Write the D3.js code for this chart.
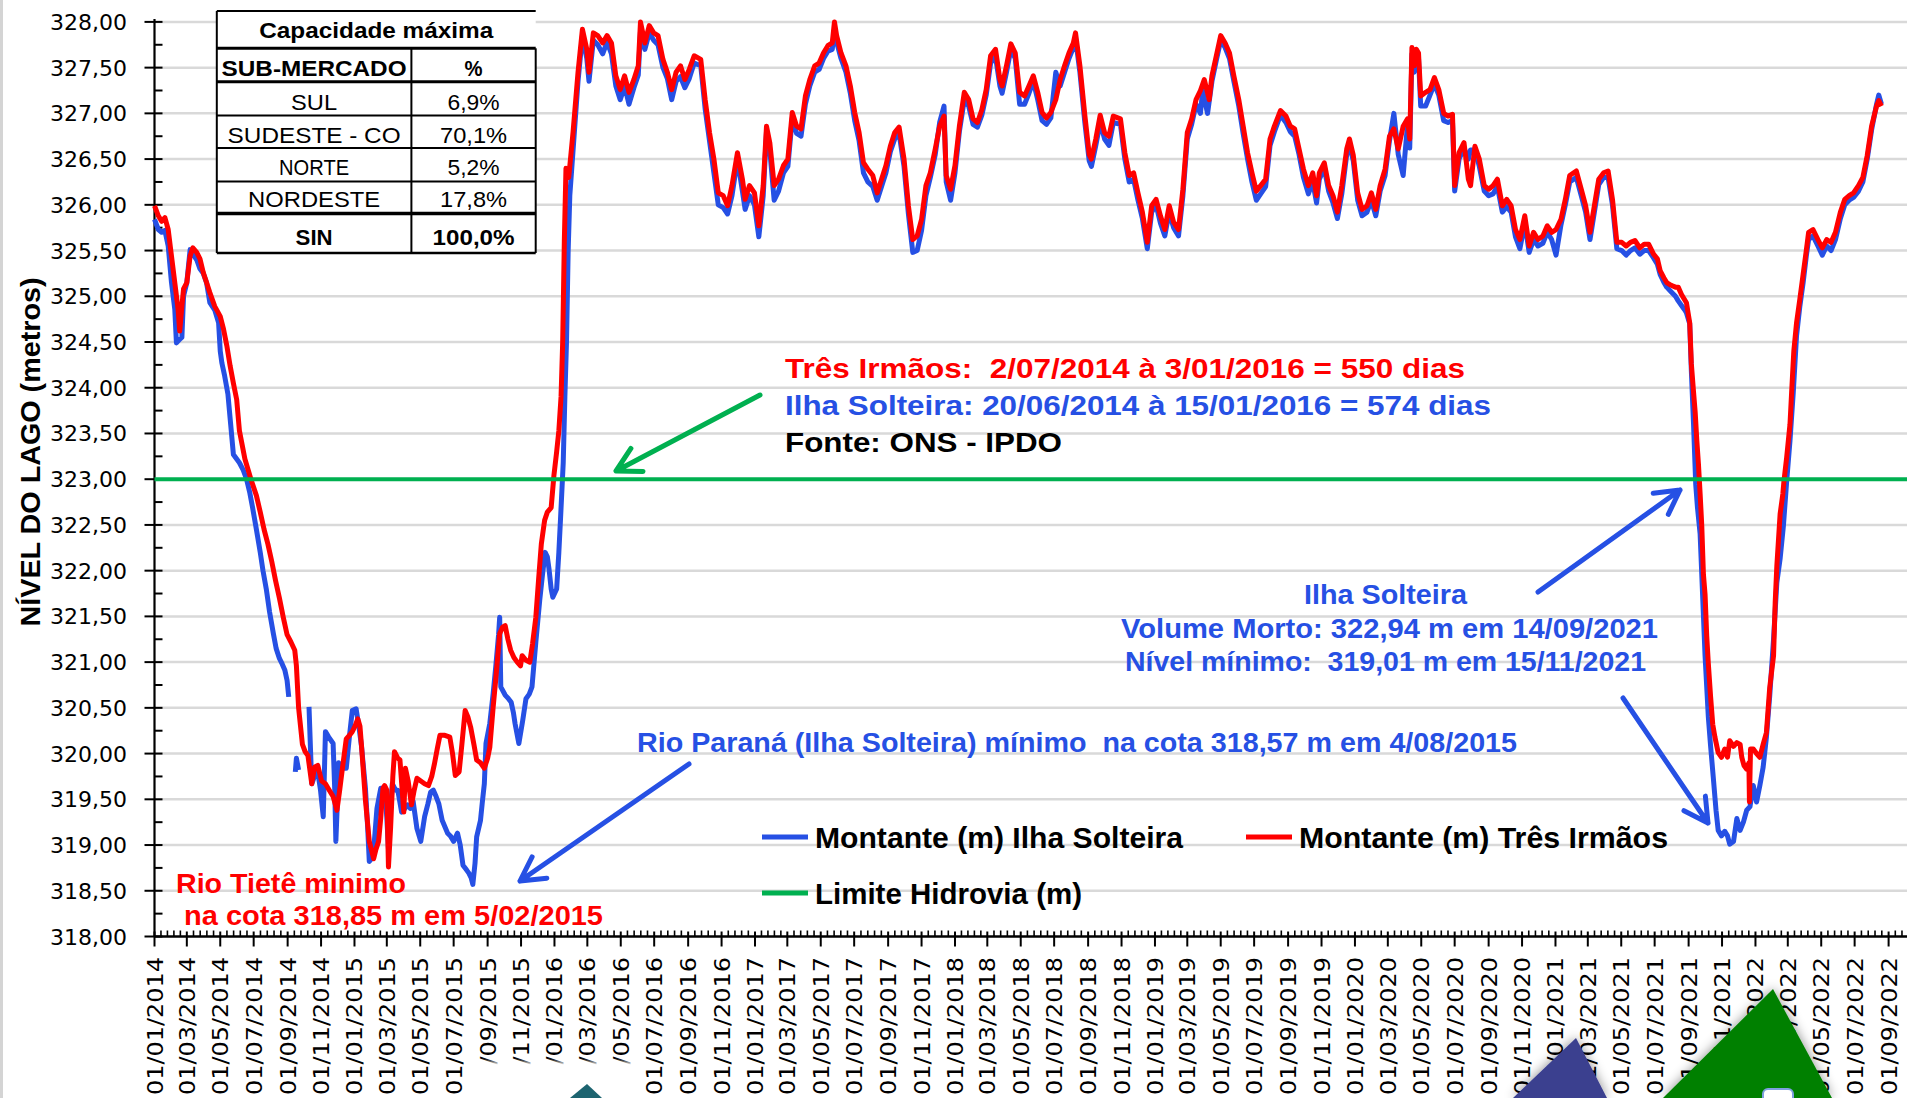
<!DOCTYPE html>
<html>
<head>
<meta charset="utf-8">
<script src="https://cdn.jsdelivr.net/npm/d3@7"></script>
<style>
  body { margin: 0; background: #fff; }
  text { white-space: pre; }
</style>
</head>
<body>
<svg id="grafico"></svg>
<script>
// nivel montante (m), pares [dias desde 01/01/2014, nivel]; null = sem dado
var ilhaSolteira = [
  [0,325.84],[7,325.73],[13,325.7],[19,325.72],[25,325.55],[31,325.15],[37,324.86],[40,324.49],[46,324.53],[50,324.55],
  [53,325.0],[59,325.15],[65,325.51],[71,325.45],[77,325.4],[83,325.3],[89,325.25],[95,325.15],[101,324.93],[110,324.85],
  [117,324.71],[120,324.4],[123,324.27],[128,324.13],[134,323.93],[139,323.6],[144,323.27],[150,323.22],[155,323.18],[162,323.1],
  [168,323.0],[174,322.85],[179,322.69],[186,322.45],[193,322.2],[198,322.0],[204,321.8],[210,321.55],[217,321.31],[222,321.15],
  [228,321.04],[233,320.98],[238,320.91],[242,320.8],[245,320.62],[250,null],[257,319.8],[259,319.95],[263,319.82],[265,null],
  [282,320.51],[285,320.0],[287,319.67],[292,319.75],[298,319.8],[303,319.6],[308,319.31],[312,320.24],[318,320.18],[326,320.11],
  [329,319.6],[331,319.04],[334,319.5],[336,319.9],[343,319.84],[350,319.84],[356,320.2],[361,320.47],[368,320.49],[373,320.3],
  [378,320.07],[385,319.62],[389,319.2],[392,318.82],[399,318.87],[406,319.4],[413,319.62],[420,319.62],[424,319.3],[427,318.96],
  [431,319.4],[434,319.67],[440,319.6],[444,319.6],[451,319.36],[457,319.4],[462,319.44],[467,319.4],[472,319.48],[479,319.18],
  [486,319.04],[493,319.31],[499,319.45],[504,319.58],[509,319.6],[514,319.53],[519,319.45],[525,319.27],[530,319.2],[535,319.13],
  [540,319.1],[546,319.04],[553,319.13],[558,319.0],[563,318.78],[568,318.74],[574,318.69],[578,318.64],[581,318.57],[585,318.8],
  [588,319.09],[595,319.27],[598,319.45],[602,319.67],[605,320.11],[612,320.33],[618,320.65],[623,320.96],[628,321.3],[630,321.49],
  [632,320.73],[640,320.64],[646,320.6],[651,320.56],[655,320.45],[658,320.33],[665,320.11],[672,320.36],[678,320.6],[684,320.65],
  [689,320.73],[696,321.22],[703,321.67],[708,321.95],[713,322.2],[717,322.15],[720,322.02],[724,321.8],[727,321.71],[734,321.8],
  [738,322.2],[741,322.56],[746,323.18],[749,323.9],[752,324.51],[755,325.5],[758,326.1],[764,326.6],[773,327.35],[781,327.85],
  [789,327.6],[793,327.35],[801,327.8],[809,327.75],[818,327.65],[826,327.78],[834,327.65],[842,327.3],[850,327.15],[858,327.3],
  [866,327.1],[875,327.28],[883,327.42],[887,327.9],[895,327.7],[903,327.88],[911,327.8],[919,327.75],[928,327.5],[936,327.38],
  [944,327.15],[952,327.35],[960,327.4],[968,327.28],[976,327.38],[985,327.55],[997,327.52],[1005,327.05],[1013,326.7],[1021,326.35],
  [1029,326.0],[1038,325.97],[1046,325.9],[1054,326.1],[1064,326.5],[1073,326.15],[1078,325.95],[1086,326.1],[1095,326.0],[1103,325.65],
  [1111,326.1],[1117,326.8],[1123,326.6],[1131,326.05],[1139,326.15],[1148,326.35],[1156,326.42],[1164,326.95],[1172,326.78],[1180,326.75],
  [1188,327.1],[1196,327.3],[1205,327.45],[1213,327.48],[1221,327.6],[1229,327.68],[1237,327.7],[1241,327.92],[1245,327.78],[1253,327.6],
  [1262,327.45],[1270,327.22],[1278,326.92],[1286,326.7],[1294,326.35],[1302,326.25],[1311,326.2],[1319,326.05],[1327,326.2],[1335,326.35],
  [1343,326.58],[1351,326.72],[1359,326.78],[1368,326.42],[1376,325.9],[1384,325.48],[1392,325.5],[1400,325.72],[1408,326.1],[1416,326.3],
  [1425,326.55],[1433,326.9],[1441,327.08],[1445,326.25],[1453,326.05],[1461,326.35],[1469,326.8],[1478,327.15],[1486,327.08],[1494,326.88],
  [1502,326.85],[1510,326.98],[1518,327.2],[1526,327.55],[1535,327.62],[1543,327.3],[1547,327.22],[1555,327.45],[1563,327.7],[1571,327.6],
  [1579,327.1],[1588,327.1],[1596,327.22],[1604,327.35],[1612,327.15],[1620,326.92],[1628,326.88],[1636,326.95],[1645,327.45],[1653,327.3],
  [1661,327.45],[1669,327.6],[1677,327.72],[1681,327.82],[1689,327.45],[1698,326.9],[1706,326.48],[1710,326.42],[1718,326.65],[1726,326.9],
  [1734,326.72],[1742,326.65],[1750,326.9],[1763,326.88],[1771,326.5],[1779,326.25],[1787,326.28],[1795,326.05],[1803,325.85],[1812,325.52],
  [1820,325.92],[1828,326.0],[1836,325.8],[1844,325.66],[1852,325.92],[1860,325.75],[1869,325.66],[1877,326.1],[1885,326.72],[1893,326.88],
  [1901,327.1],[1909,327.0],[1913,327.25],[1922,327.0],[1930,327.35],[1938,327.58],[1946,327.8],[1954,327.72],[1962,327.6],[1970,327.35],
  [1979,327.08],[1987,326.78],[1995,326.5],[2003,326.25],[2011,326.05],[2019,326.12],[2028,326.2],[2036,326.65],[2044,326.8],[2055,326.98],
  [2065,326.9],[2073,326.8],[2081,326.75],[2089,326.55],[2097,326.3],[2106,326.12],[2114,326.25],[2121,326.02],[2126,326.28],[2135,326.4],
  [2143,326.15],[2151,326.02],[2159,325.85],[2167,326.12],[2176,326.55],[2181,326.65],[2188,326.48],[2196,326.05],[2204,325.88],[2213,325.92],
  [2221,326.05],[2229,325.88],[2237,326.15],[2246,326.32],[2254,326.7],[2262,327.0],[2270,326.55],[2279,326.32],[2287,326.88],[2291,326.62],
  [2295,327.65],[2299,327.45],[2303,327.62],[2307,327.6],[2311,327.08],[2320,327.08],[2328,327.2],[2336,327.32],[2344,327.2],[2353,326.92],
  [2361,326.9],[2369,326.92],[2373,326.15],[2381,326.5],[2390,326.62],[2398,326.5],[2402,326.6],[2410,326.6],[2418,326.42],[2427,326.15],
  [2435,326.1],[2443,326.12],[2451,326.2],[2460,325.92],[2468,325.98],[2476,325.92],[2484,325.65],[2492,325.52],[2501,325.8],[2509,325.48],
  [2517,325.62],[2525,325.55],[2534,325.58],[2542,325.7],[2550,325.62],[2558,325.45],[2567,325.78],[2575,326.0],[2583,326.25],[2595,326.3],
  [2604,326.1],[2612,325.92],[2620,325.62],[2628,325.92],[2636,326.22],[2645,326.3],[2653,326.3],[2661,326.0],[2669,325.52],[2678,325.5],
  [2686,325.45],[2694,325.5],[2702,325.53],[2711,325.46],[2719,325.5],[2727,325.5],[2736,325.42],[2743,325.35],[2748,325.24],[2755,325.15],
  [2760,325.1],[2768,325.05],[2776,325.0],[2781,324.95],[2787,324.9],[2793,324.85],[2796,324.82],[2802,324.7],[2805,324.18],[2809,323.6],
  [2813,322.94],[2816,322.7],[2821,322.4],[2824,321.96],[2830,321.07],[2836,320.4],[2840,320.09],[2845,319.74],[2850,319.38],[2854,319.16],
  [2860,319.1],[2866,319.15],[2871,319.1],[2875,319.01],[2882,319.04],[2888,319.29],[2894,319.16],[2900,319.25],[2906,319.38],[2912,319.42],
  [2918,319.65],[2924,319.47],[2930,319.65],[2936,319.85],[2942,320.18],[2948,320.63],[2955,321.25],[2961,321.87],[2967,322.13],[2973,322.49],
  [2979,322.98],[2985,323.42],[2991,323.95],[2997,324.57],[3003,324.89],[3009,325.15],[3015,325.45],[3019,325.62],[3027,325.66],[3036,325.55],
  [3044,325.45],[3052,325.55],[3060,325.5],[3068,325.62],[3077,325.85],[3085,326.0],[3093,326.05],[3101,326.08],[3110,326.15],[3118,326.25],
  [3126,326.5],[3134,326.82],[3143,327.1],[3147,327.2],[3152,327.1]
];

var tresIrmaos = [
  [0,325.99],[7,325.88],[13,325.82],[19,325.86],[25,325.73],[31,325.44],[37,325.15],[43,324.86],[46,324.62],[50,324.89],
  [53,325.08],[59,325.15],[65,325.44],[70,325.53],[77,325.48],[83,325.41],[89,325.26],[95,325.15],[101,325.04],[110,324.89],
  [120,324.78],[126,324.64],[132,324.46],[138,324.24],[144,324.05],[150,323.87],[155,323.53],[165,323.22],[176,323.0],[186,322.82],
  [193,322.64],[200,322.45],[207,322.29],[214,322.1],[221,321.89],[228,321.7],[235,321.49],[242,321.3],[249,321.22],[256,321.13],
  [259,320.96],[263,320.5],[270,320.1],[275,320.02],[280,319.98],[287,319.67],[292,319.85],[298,319.87],[305,319.7],[312,319.67],
  [319,319.6],[326,319.53],[333,319.38],[338,319.6],[343,319.84],[350,320.16],[356,320.2],[361,320.24],[366,320.3],[371,320.38],
  [375,320.3],[378,320.07],[385,319.49],[392,319.04],[400,318.85],[404,318.95],[409,319.04],[413,319.3],[417,319.62],[420,319.65],
  [424,319.6],[427,318.76],[431,319.2],[435,319.75],[438,320.02],[444,319.95],[448,319.93],[452,319.6],[455,319.36],[458,319.84],
  [463,319.7],[469,319.44],[474,319.6],[479,319.73],[486,319.7],[493,319.67],[500,319.65],[506,319.75],[511,319.89],[516,320.05],
  [521,320.2],[530,320.2],[539,320.18],[544,320.0],[549,319.76],[556,319.8],[561,320.1],[567,320.47],[572,320.4],[577,320.29],
  [583,320.1],[588,319.93],[595,319.9],[602,319.84],[608,319.95],[612,320.07],[618,320.5],[623,320.82],[630,321.31],[635,321.38],
  [640,321.4],[645,321.25],[650,321.13],[656,321.05],[662,321.0],[668,320.96],[671,321.07],[678,321.02],[685,321.0],[690,321.2],
  [696,321.49],[701,321.9],[706,322.29],[712,322.55],[717,322.64],[724,322.69],[729,323.04],[734,323.3],[738,323.53],[742,323.9],
  [745,324.5],[748,325.6],[751,326.4],[756,326.3],[764,326.8],[773,327.45],[781,327.92],[789,327.7],[793,327.45],[801,327.88],
  [809,327.85],[818,327.77],[826,327.85],[834,327.77],[842,327.41],[850,327.26],[858,327.41],[866,327.23],[875,327.37],[883,327.52],
  [887,328.0],[895,327.77],[903,327.96],[911,327.88],[919,327.85],[928,327.59],[936,327.45],[944,327.26],[952,327.45],[960,327.52],
  [968,327.37],[976,327.48],[985,327.63],[997,327.59],[1005,327.15],[1013,326.79],[1021,326.5],[1029,326.13],[1038,326.1],[1046,325.99],
  [1054,326.21],[1064,326.57],[1073,326.28],[1078,326.06],[1086,326.21],[1095,326.13],[1103,325.77],[1111,326.21],[1117,326.86],[1123,326.68],
  [1131,326.21],[1139,326.28],[1148,326.43],[1156,326.5],[1164,327.01],[1172,326.86],[1180,326.83],[1188,327.19],[1196,327.37],[1205,327.52],
  [1213,327.55],[1221,327.66],[1229,327.74],[1237,327.77],[1241,328.0],[1245,327.85],[1253,327.66],[1262,327.52],[1270,327.3],[1278,327.01],
  [1286,326.79],[1294,326.46],[1302,326.39],[1311,326.32],[1319,326.13],[1327,326.28],[1335,326.43],[1343,326.64],[1351,326.79],[1359,326.85],
  [1368,326.5],[1376,325.99],[1384,325.62],[1392,325.66],[1400,325.84],[1408,326.21],[1416,326.35],[1425,326.61],[1433,326.86],[1441,326.97],
  [1445,326.32],[1453,326.17],[1461,326.43],[1469,326.86],[1478,327.23],[1486,327.15],[1494,326.94],[1502,326.9],[1510,327.04],[1518,327.26],
  [1526,327.63],[1535,327.7],[1543,327.37],[1547,327.3],[1555,327.52],[1563,327.76],[1571,327.66],[1579,327.23],[1588,327.19],[1596,327.3],
  [1604,327.41],[1612,327.23],[1620,327.01],[1628,326.95],[1636,327.01],[1645,327.15],[1653,327.37],[1661,327.52],[1669,327.66],[1677,327.77],
  [1681,327.88],[1689,327.52],[1698,326.98],[1706,326.55],[1710,326.5],[1718,326.72],[1726,326.98],[1734,326.79],[1742,326.75],[1750,326.97],
  [1763,326.94],[1771,326.57],[1779,326.32],[1787,326.35],[1795,326.13],[1803,325.92],[1812,325.59],[1820,325.99],[1828,326.06],[1836,325.88],
  [1844,325.73],[1852,325.99],[1860,325.81],[1869,325.73],[1877,326.17],[1885,326.79],[1893,326.94],[1901,327.15],[1909,327.25],[1916,327.37],
  [1925,327.15],[1930,327.41],[1938,327.63],[1946,327.85],[1954,327.77],[1962,327.66],[1970,327.41],[1979,327.15],[1987,326.86],[1995,326.57],
  [2003,326.35],[2011,326.15],[2019,326.21],[2028,326.28],[2036,326.72],[2044,326.86],[2055,327.03],[2065,326.97],[2073,326.86],[2081,326.83],
  [2089,326.61],[2097,326.39],[2106,326.21],[2114,326.35],[2121,326.1],[2126,326.35],[2135,326.46],[2143,326.21],[2151,326.1],[2159,325.92],
  [2167,326.21],[2176,326.61],[2181,326.72],[2188,326.54],[2196,326.13],[2204,325.95],[2213,325.99],[2221,326.13],[2229,325.95],[2237,326.21],
  [2246,326.39],[2254,326.75],[2262,326.83],[2270,326.61],[2279,326.86],[2287,326.94],[2291,326.72],[2295,327.72],[2299,327.52],[2303,327.7],
  [2307,327.66],[2311,327.19],[2320,327.23],[2328,327.26],[2336,327.39],[2344,327.26],[2353,327.0],[2361,326.97],[2369,326.99],[2373,326.21],
  [2381,326.57],[2390,326.68],[2398,326.28],[2402,326.21],[2410,326.64],[2418,326.5],[2427,326.21],[2435,326.17],[2443,326.21],[2451,326.28],
  [2460,325.99],[2468,326.06],[2476,325.99],[2484,325.73],[2492,325.62],[2501,325.88],[2509,325.55],[2517,325.7],[2525,325.62],[2534,325.66],
  [2542,325.77],[2550,325.7],[2558,325.73],[2567,325.84],[2575,326.06],[2583,326.32],[2595,326.37],[2604,326.17],[2612,325.99],[2620,325.7],
  [2628,325.99],[2636,326.28],[2645,326.35],[2653,326.37],[2661,326.06],[2669,325.59],[2678,325.59],[2686,325.55],[2694,325.59],[2702,325.61],
  [2711,325.53],[2719,325.57],[2727,325.57],[2736,325.46],[2743,325.41],[2748,325.28],[2755,325.2],[2760,325.15],[2768,325.12],[2776,325.1],
  [2781,325.1],[2787,325.02],[2796,324.93],[2802,324.71],[2805,324.26],[2809,323.95],[2812,323.73],[2815,323.42],[2818,323.16],[2821,322.84],
  [2824,322.49],[2827,321.96],[2830,321.74],[2833,321.29],[2836,320.98],[2840,320.63],[2844,320.32],[2848,320.18],[2854,320.01],[2860,319.96],
  [2866,320.05],[2871,319.96],[2875,320.14],[2882,320.08],[2888,320.12],[2894,320.1],[2897,319.96],[2901,319.87],[2906,319.83],[2910,319.9],
  [2911,319.47],[2913,320.05],[2918,320.05],[2924,320.0],[2930,319.96],[2936,320.1],[2942,320.23],[2948,320.72],[2955,321.07],[2958,321.65],
  [2961,322.05],[2967,322.62],[2972,322.84],[2974,322.98],[2979,323.24],[2985,323.6],[2988,323.95],[2992,324.4],[2997,324.71],[3003,324.97],
  [3009,325.24],[3015,325.51],[3019,325.7],[3027,325.73],[3036,325.62],[3044,325.53],[3052,325.62],[3060,325.59],[3068,325.7],[3077,325.92],
  [3085,326.06],[3093,326.1],[3101,326.13],[3110,326.21],[3118,326.3],[3126,326.54],[3134,326.86],[3143,327.08],[3147,327.14],[3152,327.08]
];

var limiteHidrovia = 323;
var yMin = 318, yMax = 328, yPasso = 0.5;

var subMercados = ["SUL", "SUDESTE - CO", "NORTE", "NORDESTE"];
var capacidades = ["6,9%", "70,1%", "5,2%", "17,8%"];
var capacidadeTotal = ["SIN", "100,0%"];

var azul = "#2650e4", vermelho = "#ff0000", verde = "#00b050";

var W = 1907, H = 1098;
var eixoX0 = 154.5, eixoYbase = 936.5, eixoYtopo = 21.9;

var svg = d3.select("#grafico").attr("width", W).attr("height", H)
  .style("font-family", "'Liberation Sans', Arial, sans-serif");

var inicio = new Date(Date.UTC(2014, 0, 1));
var fim = new Date(Date.UTC(2022, 10, 1));
var ultimoRotulo = new Date(Date.UTC(2022, 8, 1));
function dia(n) { return d3.utcDay.offset(inicio, n); }

var x = d3.scaleUtc().domain([inicio, fim])
  .range([eixoX0, eixoX0 + 0.5479 * d3.utcDay.count(inicio, fim)]);
var y = d3.scaleLinear().domain([yMin, yMax]).range([eixoYbase, eixoYtopo]);

// borda cinza à esquerda
svg.append("line").attr("x1", 1.5).attr("x2", 1.5).attr("y1", 0).attr("y2", H)
  .attr("stroke", "#d4d4d4").attr("stroke-width", 3);

// grade horizontal
var yTicks = d3.range(yMin, yMax + 0.001, yPasso);
svg.append("g").selectAll("line").data(yTicks.filter(function (d) { return d > yMin; }))
  .enter().append("line")
  .attr("x1", eixoX0).attr("x2", W)
  .attr("y1", function (d) { return y(d); }).attr("y2", function (d) { return y(d); })
  .attr("stroke", "#d9d9d9").attr("stroke-width", 2.5);

// eixo Y
var gy = svg.append("g");
gy.append("line").attr("x1", eixoX0).attr("x2", eixoX0).attr("y1", eixoYtopo - 3).attr("y2", eixoYbase)
  .attr("stroke", "#000").attr("stroke-width", 2.2);
gy.selectAll(".maior").data(yTicks).enter().append("line")
  .attr("x1", eixoX0 - 10).attr("x2", eixoX0 + 8)
  .attr("y1", function (d) { return y(d); }).attr("y2", function (d) { return y(d); })
  .attr("stroke", "#000").attr("stroke-width", 2);
gy.selectAll(".menor").data(d3.range(yMin + 0.25, yMax, yPasso)).enter().append("line")
  .attr("x1", eixoX0).attr("x2", eixoX0 + 8)
  .attr("y1", function (d) { return y(d); }).attr("y2", function (d) { return y(d); })
  .attr("stroke", "#000").attr("stroke-width", 2);
gy.selectAll("text").data(yTicks).enter().append("text")
  .attr("x", 127).attr("y", function (d) { return y(d) + 8; })
  .attr("text-anchor", "end")
  .style("font-family", "'DejaVu Sans', Verdana, sans-serif").style("font-size", "22px")
  .text(function (d) { return d3.format(".2f")(d).replace(".", ","); });

svg.append("text")
  .attr("transform", "translate(40,452) rotate(-90)")
  .attr("text-anchor", "middle")
  .attr("textLength", 349).attr("lengthAdjust", "spacingAndGlyphs")
  .style("font-size", "28px").style("font-weight", "bold")
  .text("NÍVEL DO LAGO (metros)");

// eixo X: marcas a cada 2 meses, 4 marcas menores entre elas
var gx = svg.append("g");
var mesesX = d3.utcMonth.every(2).range(inicio, d3.utcDay.offset(fim, 1));
gx.append("line").attr("x1", eixoX0).attr("x2", W).attr("y1", eixoYbase).attr("y2", eixoYbase)
  .attr("stroke", "#000").attr("stroke-width", 2.5);
gx.selectAll(".maior").data(mesesX).enter().append("line")
  .attr("x1", function (d) { return x(d); }).attr("x2", function (d) { return x(d); })
  .attr("y1", eixoYbase - 5).attr("y2", eixoYbase + 10)
  .attr("stroke", "#000").attr("stroke-width", 2);
var menores = [];
mesesX.forEach(function (d, i) {
  if (i === mesesX.length - 1) return;
  var a = x(d), b = x(mesesX[i + 1]);
  for (var k = 1; k < 5; k++) menores.push(a + k * (b - a) / 5);
});
gx.selectAll(".menor").data(menores).enter().append("line")
  .attr("x1", function (d) { return d; }).attr("x2", function (d) { return d; })
  .attr("y1", eixoYbase - 6).attr("y2", eixoYbase)
  .attr("stroke", "#000").attr("stroke-width", 1.6);
gx.selectAll("text").data(mesesX.filter(function (d) { return d <= ultimoRotulo; }))
  .enter().append("text")
  .attr("transform", function (d) { return "translate(" + (x(d) + 8) + ",957) rotate(-90)"; })
  .attr("text-anchor", "end")
  .attr("textLength", 138).attr("lengthAdjust", "spacingAndGlyphs")
  .style("font-family", "'DejaVu Sans', Verdana, sans-serif").style("font-size", "21px")
  .text(function (d) { return d3.utcFormat("%d/%m/%Y")(d); });

// series
var linha = d3.line()
  .defined(function (d) { return d[1] !== null; })
  .x(function (d) { return x(dia(d[0])); })
  .y(function (d) { return y(d[1]); });

svg.append("path").datum(ilhaSolteira).attr("d", linha)
  .attr("fill", "none").attr("stroke", azul).attr("stroke-width", 5).attr("stroke-linejoin", "round");
svg.append("path").datum(tresIrmaos).attr("d", linha)
  .attr("fill", "none").attr("stroke", vermelho).attr("stroke-width", 5).attr("stroke-linejoin", "round");
svg.append("line").attr("x1", eixoX0).attr("x2", W)
  .attr("y1", y(limiteHidrovia)).attr("y2", y(limiteHidrovia))
  .attr("stroke", verde).attr("stroke-width", 4);

// tabela de capacidade
var tab = svg.append("g");
var tx0 = 216.8, tx1 = 411.4, tx2 = 535.7;
var linhasTab = [11, 48.3, 81.7, 115.5, 148, 181.5, 213.5, 253];
tab.append("rect").attr("x", tx0).attr("y", linhasTab[0]).attr("width", tx2 - tx0)
  .attr("height", linhasTab[7] - linhasTab[0]).attr("fill", "#fff");
var espessura = [2, 3, 3, 2, 2, 2, 3.5, 2.5];
linhasTab.forEach(function (ly, i) {
  tab.append("line").attr("x1", tx0).attr("x2", tx2).attr("y1", ly).attr("y2", ly)
    .attr("stroke", "#000").attr("stroke-width", espessura[i]);
});
tab.append("line").attr("x1", tx0).attr("x2", tx0).attr("y1", 11).attr("y2", 253).attr("stroke", "#000").attr("stroke-width", 2);
tab.append("line").attr("x1", tx1).attr("x2", tx1).attr("y1", 48.3).attr("y2", 253).attr("stroke", "#000").attr("stroke-width", 2);
tab.append("line").attr("x1", tx2).attr("x2", tx2).attr("y1", 48.3).attr("y2", 253).attr("stroke", "#000").attr("stroke-width", 2);

function celula(txt, cx, base, larg, negrito) {
  tab.append("text").attr("x", cx).attr("y", base).attr("text-anchor", "middle")
    .attr("textLength", larg).attr("lengthAdjust", "spacingAndGlyphs")
    .style("font-size", "22px").style("font-weight", negrito ? "bold" : "normal")
    .text(txt);
}
var cA = (tx0 + tx1) / 2, cB = (tx1 + tx2) / 2;
celula("Capacidade máxima", (tx0 + tx2) / 2, 38, 234, true);
celula("SUB-MERCADO", cA, 76, 185, true);
celula("%", cB, 76, 18, true);
var basesTab = [110, 142.7, 175, 206.7];
var largA = [46, 173, 70, 132], largB = [52, 67, 52, 67];
subMercados.forEach(function (s, i) {
  celula(s, cA, basesTab[i], largA[i], false);
  celula(capacidades[i], cB, basesTab[i], largB[i], false);
});
celula(capacidadeTotal[0], cA, 245, 37, true);
celula(capacidadeTotal[1], cB, 245, 82, true);

// textos de anotacao
function nota(txt, px, py, larg, cor, tam) {
  svg.append("text").attr("x", px).attr("y", py)
    .attr("textLength", larg).attr("lengthAdjust", "spacingAndGlyphs")
    .style("font-size", (tam || 28) + "px").style("font-weight", "bold").style("fill", cor)
    .text(txt);
}
nota("Três Irmãos:  2/07/2014 à 3/01/2016 = 550 dias", 785, 378, 680, vermelho);
nota("Ilha Solteira: 20/06/2014 à 15/01/2016 = 574 dias", 785, 415, 706, azul);
nota("Fonte: ONS - IPDO", 785, 452, 277, "#000");
nota("Ilha Solteira", 1304, 604, 163, azul);
nota("Volume Morto: 322,94 m em 14/09/2021", 1121, 638, 537, azul);
nota("Nível mínimo:  319,01 m em 15/11/2021", 1125, 671, 521, azul);
nota("Rio Paraná (Ilha Solteira) mínimo  na cota 318,57 m em 4/08/2015", 637, 752, 880, azul);
nota("Rio Tietê minimo", 176, 893, 230, vermelho);
nota("na cota 318,85 m em 5/02/2015", 184, 925, 419, vermelho);

// legenda
var legenda = [
  { nome: "Montante (m) Ilha Solteira", cor: azul, x: 762, y: 837, larg: 368 },
  { nome: "Montante (m) Três Irmãos", cor: vermelho, x: 1246, y: 837, larg: 369 },
  { nome: "Limite Hidrovia (m)", cor: verde, x: 762, y: 893, larg: 267 }
];
legenda.forEach(function (l) {
  svg.append("line").attr("x1", l.x).attr("x2", l.x + 46).attr("y1", l.y).attr("y2", l.y)
    .attr("stroke", l.cor).attr("stroke-width", 5);
  nota(l.nome, l.x + 53, l.y + 11, l.larg, "#000", 29);
});

// setas
function seta(x1, y1, x2, y2, cor) {
  var ang = Math.atan2(y2 - y1, x2 - x1), L = 27, abre = 0.5;
  var p1 = [x2 - L * Math.cos(ang - abre), y2 - L * Math.sin(ang - abre)];
  var p2 = [x2 - L * Math.cos(ang + abre), y2 - L * Math.sin(ang + abre)];
  svg.append("path")
    .attr("d", "M" + x1 + "," + y1 + "L" + x2 + "," + y2 + "M" + p1 + "L" + x2 + "," + y2 + "L" + p2)
    .attr("fill", "none").attr("stroke", cor).attr("stroke-width", 5)
    .attr("stroke-linecap", "round").attr("stroke-linejoin", "round");
}
seta(760, 395, 616, 471, verde);
seta(1538, 592, 1680, 490, azul);
seta(1623, 698, 1708, 823, azul);
seta(689, 764, 520, 881, azul);

// logotipos cortados no rodape
var defs = svg.append("defs");
var f = defs.append("filter").attr("id", "sombra").attr("x", "-40%").attr("y", "-40%")
  .attr("width", "180%").attr("height", "180%");
f.append("feDropShadow").attr("dx", 0).attr("dy", 0).attr("stdDeviation", 6)
  .attr("flood-color", "#000").attr("flood-opacity", 0.45);
var fb = defs.append("filter").attr("id", "borrao").attr("x", "-20%").attr("y", "-50%")
  .attr("width", "140%").attr("height", "200%");
fb.append("feGaussianBlur").attr("stdDeviation", 2);

svg.append("rect").attr("x", 472).attr("y", 1062).attr("width", 166).attr("height", 45)
  .attr("fill", "#fff").attr("filter", "url(#borrao)");
svg.append("path").attr("d", "M587,1084 L602,1098 L570,1098 Z").attr("fill", "#1d6470");

svg.append("path").attr("d", "M1576,1038 L1607,1098 L1513,1098 Z")
  .attr("fill", "#3b3f8f").attr("filter", "url(#sombra)");
svg.append("path").attr("d", "M1773,989 L1832,1098 L1663,1098 Z")
  .attr("fill", "#008000").attr("filter", "url(#sombra)");
svg.append("rect").attr("x", 1763).attr("y", 1089).attr("width", 30).attr("height", 14).attr("rx", 5)
  .attr("fill", "#fff").attr("stroke", "#7fa0e0").attr("stroke-width", 2);
</script>
</body>
</html>
